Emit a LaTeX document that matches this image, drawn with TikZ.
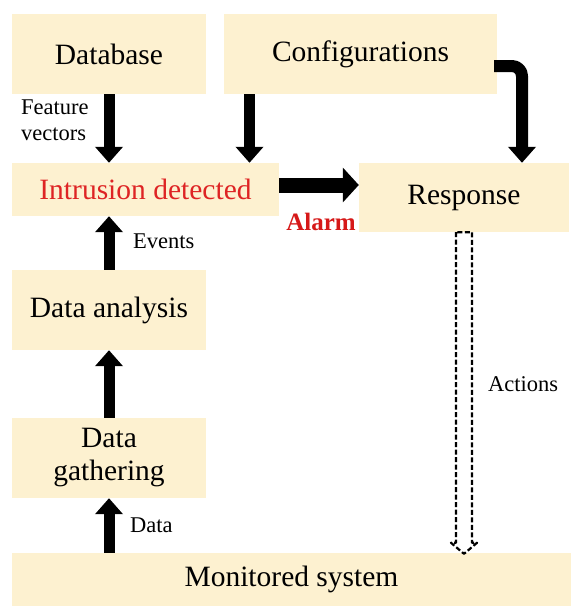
\documentclass[tikz,border=0pt]{standalone}
\usepackage{fontspec}
\setmainfont{Liberation Serif}
\usepackage{xcolor}
\usepackage{tikz}
\usetikzlibrary{arrows.meta}
\definecolor{boxfill}{RGB}{253,241,208}
\definecolor{idsred}{RGB}{222,36,36}
\definecolor{alarmred}{RGB}{214,24,24}

\begin{document}
\begin{tikzpicture}[x=1pt,y=-1pt,line join=round,
  box/.style={fill=boxfill,draw=none,inner sep=0pt,align=center,font=\fontsize{29.5}{33}\selectfont},
  flow/.style={line width=11pt,-{Triangle[width=27pt,length=16pt]}},
  lbl/.style={font=\fontsize{22.5}{26}\selectfont,align=left,inner sep=0pt}]
  \useasboundingbox (0,0) rectangle (571,606);
  % boxes
  \node[box,minimum width=194pt,minimum height=80pt] (db) at (109,54) {Database};
  \node[box,minimum width=273pt,minimum height=80pt] (cfg) at (360.5,54) {Configurations};
  \node[box,minimum width=267pt,minimum height=53pt,text=idsred] (ids) at (145.5,189.5) {Intrusion detected};
  \node[box,minimum width=210pt,minimum height=69pt] (resp) at (464,197.5) {Response};
  \node[box,minimum width=194pt,minimum height=80pt] (ana) at (109,310) {Data analysis};
  \node[box,minimum width=194pt,minimum height=80pt] (gat) at (109,458) {Data\\gathering};
  \node[box,minimum width=559pt,minimum height=53pt] (mon) at (291.5,579.5) {Monitored system};
  % labels
  \node[lbl,anchor=west] (fv) at (21,120) {Feature\\vectors};
  \node[lbl,anchor=west] (ev) at (133,241) {Events};
  \node[lbl,anchor=west] (dt) at (130,525) {Data};
  \node[lbl,anchor=west] (act) at (488,384) {Actions};
  \node[font=\fontsize{25}{28}\selectfont\bfseries,text=alarmred,inner sep=0pt] (alarm) at (321,222) {Alarm};
  % arrows
  \draw[flow] (db.south) -- (db.south |- ids.north);
  \coordinate (cfgout) at ([xshift=-111pt]cfg.south);
  \draw[flow] (cfgout) -- (cfgout |- ids.north);
  \draw[flow,line width=12pt,rounded corners=10pt] ([yshift=-12pt,xshift=-3pt]cfg.east) -| ([xshift=58pt]resp.north);
  \draw[line width=15pt,-{Triangle[width=34pt,length=16pt]}] ([yshift=4.5pt]ids.east) -- ([yshift=4.5pt]ids.east -| resp.west);
  \draw[flow] (ana.north) -- (ana.north |- ids.south);
  \draw[flow] (gat.north) -- (gat.north |- ana.south);
  \draw[flow] (mon.north -| gat.south) -- (gat.south);
  % actions
  \coordinate (a1) at (resp.south);
  \coordinate (a2) at (resp.south |- mon.north);
  \draw[line width=2.2pt,dash pattern=on 5pt off 2.5pt]
    ([xshift=-8pt]a1) -- ([xshift=-8pt,yshift=10pt]a2) -- ([xshift=-13pt,yshift=10pt]a2)
    -- ([yshift=-1pt]a2) -- ([xshift=13pt,yshift=10pt]a2) -- ([xshift=8pt,yshift=10pt]a2)
    -- ([xshift=8pt]a1) -- cycle;
\end{tikzpicture}
\end{document}
